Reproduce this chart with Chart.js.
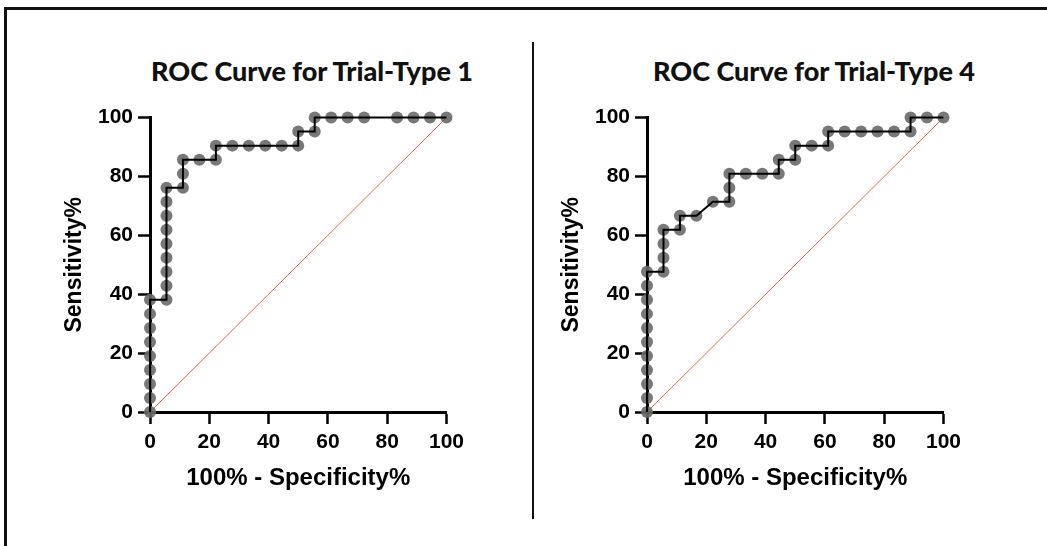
<!DOCTYPE html>
<html>
<head>
<meta charset="utf-8">
<script src="https://cdn.jsdelivr.net/npm/chart.js@4"></script>
<style>
  html, body { margin: 0; padding: 0; background: #fff; overflow: hidden; }
  body { width: 1047px; height: 546px; position: relative; }
  .frameTop { position: absolute; left: 4px; top: 7px; width: 1043px; height: 3px; background: #111; }
  .frameLeft { position: absolute; left: 4px; top: 7px; width: 3px; height: 539px; background: #111; }
  .divider { position: absolute; left: 532px; top: 42px; width: 2px; height: 477px; background: #111; }
  .ttl { position: absolute; top: 54px; width: 420px; text-align: center;
         font-family: Lato, "Noto Sans", sans-serif; font-weight: 900; font-size: 27px; color: #111; }
  .box { position: absolute; top: 100px; width: 430px; height: 410px; }
</style>
</head>
<body>
<div class="frameTop"></div>
<div class="frameLeft"></div>
<div class="divider"></div>

<div class="ttl" style="left:102px">ROC Curve for Trial-Type 1</div>
<div class="ttl" style="left:604px">ROC Curve for Trial-Type 4</div>

<div class="box" style="left:40px"><canvas id="roc1" width="430" height="410"></canvas></div>
<div class="box" style="left:537px"><canvas id="roc4" width="430" height="410"></canvas></div>

<script>
// ROC points (100% - specificity, sensitivity)
const fpr1 = [0, 0, 0, 0, 0, 0, 0, 0, 0,
  5.56, 5.56, 5.56, 5.56, 5.56, 5.56, 5.56, 5.56, 5.56,
  11.11, 11.11, 11.11, 16.67, 22.22, 22.22,
  27.78, 33.33, 38.89, 44.44, 50, 50, 55.56, 55.56,
  61.11, 66.67, 72.22, 83.33, 88.89, 94.44, 100];
const tpr1 = [0, 4.76, 9.52, 14.29, 19.05, 23.81, 28.57, 33.33, 38.1,
  38.1, 42.86, 47.62, 52.38, 57.14, 61.9, 66.67, 71.43, 76.19,
  76.19, 80.95, 85.71, 85.71, 85.71, 90.48,
  90.48, 90.48, 90.48, 90.48, 90.48, 95.24, 95.24, 100,
  100, 100, 100, 100, 100, 100, 100];

const fpr4 = [0, 0, 0, 0, 0, 0, 0, 0, 0, 0, 0,
  5.56, 5.56, 5.56, 5.56, 11.11, 11.11, 16.67, 22.22,
  27.78, 27.78, 27.78, 33.33, 38.89, 44.44, 44.44,
  50, 50, 55.56, 61.11, 61.11, 66.67, 72.22, 77.78, 83.33,
  88.89, 88.89, 94.44, 100];
const tpr4 = [0, 4.76, 9.52, 14.29, 19.05, 23.81, 28.57, 33.33, 38.1, 42.86, 47.62,
  47.62, 52.38, 57.14, 61.9, 61.9, 66.67, 66.67, 71.43,
  71.43, 76.19, 80.95, 80.95, 80.95, 80.95, 85.71,
  85.71, 90.48, 90.48, 90.48, 95.24, 95.24, 95.24, 95.24, 95.24,
  95.24, 100, 100, 100];

// chance line
const chanceX = [0, 100];
const chanceY = [0, 100];

const xTicks = [0, 20, 40, 60, 80, 100];
const yTicks = [0, 20, 40, 60, 80, 100];

function pts(xs, ys) {
  return xs.map((x, i) => ({ x: x, y: ys[i] }));
}

function makeRoc(id, xs, ys) {
  const ctx = document.getElementById(id).getContext('2d');
  const fam = '"Liberation Sans", Arial, sans-serif';
  return new Chart(ctx, {
    type: 'scatter',
    data: {
      datasets: [
        {
          // black step line on top of the dots
          type: 'line',
          data: pts(xs, ys),
          borderColor: '#000',
          borderWidth: 2,
          pointRadius: 0,
          fill: false,
          tension: 0,
          order: 0
        },
        {
          data: pts(xs, ys),
          backgroundColor: 'rgba(105,105,105,0.9)',
          borderWidth: 0,
          pointRadius: 6,
          order: 1
        },
        {
          type: 'line',
          data: pts(chanceX, chanceY),
          borderColor: '#f0604a',
          borderWidth: 1,
          pointRadius: 0,
          fill: false,
          order: 2
        }
      ]
    },
    options: {
      responsive: false,
      animation: false,
      events: [],
      clip: false,
      layout: { padding: { top: 17, right: 23, left: 0, bottom: 0 } },
      plugins: { legend: { display: false }, tooltip: { enabled: false } },
      scales: {
        x: {
          type: 'linear',
          min: 0, max: 100,
          afterFit: function (s) { s.height = 98; },
          afterBuildTicks: function (s) { s.ticks = xTicks.map(v => ({ value: v })); },
          grid: { drawOnChartArea: false, color: '#000', tickLength: 12, tickWidth: 2.5 },
          border: { color: '#000', width: 3 },
          ticks: { color: '#000', font: { family: fam, weight: 'bold', size: 21 }, padding: 6, maxRotation: 0 },
          title: { display: true, text: '100% - Specificity%', color: '#000',
                   font: { family: fam, weight: 'bold', size: 24 },
                   padding: { top: 0, bottom: 17 } }
        },
        y: {
          type: 'linear',
          min: 0, max: 100,
          afterFit: function (s) { s.width = 110; },
          afterBuildTicks: function (s) { s.ticks = yTicks.map(v => ({ value: v })); },
          grid: { drawOnChartArea: false, color: '#000', tickLength: 12, tickWidth: 2.5 },
          border: { color: '#000', width: 3 },
          ticks: { color: '#000', font: { family: fam, weight: 'bold', size: 21 }, padding: 5 },
          title: { display: true, text: 'Sensitivity%', color: '#000',
                   font: { family: fam, weight: 'bold', size: 23 },
                   padding: { top: 21, bottom: 0 } }
        }
      }
    }
  });
}

makeRoc('roc1', fpr1, tpr1);
makeRoc('roc4', fpr4, tpr4);
</script>
</body>
</html>
